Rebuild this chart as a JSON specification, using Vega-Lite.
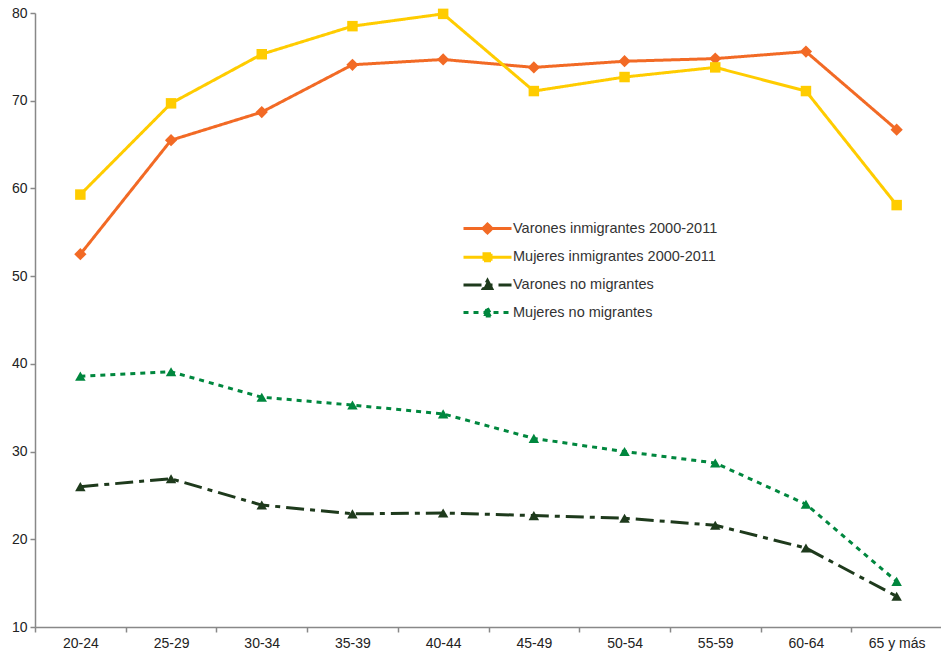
{
  "$schema": "https://vega.github.io/schema/vega-lite/v6.json",
  "autosize": "none",
  "width": 907,
  "height": 614,
  "padding": {"left": 35, "top": 13, "right": 0, "bottom": 30},
  "background": "white",
  "config": {
    "view": {"stroke": null},
    "font": "Liberation Sans",
    "axis": {"labelFont": "Liberation Sans", "labelFontSize": 14, "labelColor": "#222", "domainColor": "#888", "tickColor": "#888", "domainWidth": 1.5, "tickWidth": 1.5, "grid": false, "title": null}
  },
  "data": {"values": [
    {"g": "20-24", "s": "Varones inmigrantes 2000-2011", "v": 52.5},
    {"g": "25-29", "s": "Varones inmigrantes 2000-2011", "v": 65.5},
    {"g": "30-34", "s": "Varones inmigrantes 2000-2011", "v": 68.7},
    {"g": "35-39", "s": "Varones inmigrantes 2000-2011", "v": 74.1},
    {"g": "40-44", "s": "Varones inmigrantes 2000-2011", "v": 74.7},
    {"g": "45-49", "s": "Varones inmigrantes 2000-2011", "v": 73.8},
    {"g": "50-54", "s": "Varones inmigrantes 2000-2011", "v": 74.5},
    {"g": "55-59", "s": "Varones inmigrantes 2000-2011", "v": 74.8},
    {"g": "60-64", "s": "Varones inmigrantes 2000-2011", "v": 75.6},
    {"g": "65 y más", "s": "Varones inmigrantes 2000-2011", "v": 66.7},
    {"g": "20-24", "s": "Mujeres inmigrantes 2000-2011", "v": 59.3},
    {"g": "25-29", "s": "Mujeres inmigrantes 2000-2011", "v": 69.7},
    {"g": "30-34", "s": "Mujeres inmigrantes 2000-2011", "v": 75.3},
    {"g": "35-39", "s": "Mujeres inmigrantes 2000-2011", "v": 78.5},
    {"g": "40-44", "s": "Mujeres inmigrantes 2000-2011", "v": 79.9},
    {"g": "45-49", "s": "Mujeres inmigrantes 2000-2011", "v": 71.1},
    {"g": "50-54", "s": "Mujeres inmigrantes 2000-2011", "v": 72.7},
    {"g": "55-59", "s": "Mujeres inmigrantes 2000-2011", "v": 73.8},
    {"g": "60-64", "s": "Mujeres inmigrantes 2000-2011", "v": 71.1},
    {"g": "65 y más", "s": "Mujeres inmigrantes 2000-2011", "v": 58.1},
    {"g": "20-24", "s": "Varones no migrantes", "v": 26.0},
    {"g": "25-29", "s": "Varones no migrantes", "v": 26.9},
    {"g": "30-34", "s": "Varones no migrantes", "v": 23.9},
    {"g": "35-39", "s": "Varones no migrantes", "v": 22.9},
    {"g": "40-44", "s": "Varones no migrantes", "v": 23.0},
    {"g": "45-49", "s": "Varones no migrantes", "v": 22.7},
    {"g": "50-54", "s": "Varones no migrantes", "v": 22.4},
    {"g": "55-59", "s": "Varones no migrantes", "v": 21.6},
    {"g": "60-64", "s": "Varones no migrantes", "v": 19.0},
    {"g": "65 y más", "s": "Varones no migrantes", "v": 13.5},
    {"g": "20-24", "s": "Mujeres no migrantes", "v": 38.6},
    {"g": "25-29", "s": "Mujeres no migrantes", "v": 39.1},
    {"g": "30-34", "s": "Mujeres no migrantes", "v": 36.2},
    {"g": "35-39", "s": "Mujeres no migrantes", "v": 35.3},
    {"g": "40-44", "s": "Mujeres no migrantes", "v": 34.3},
    {"g": "45-49", "s": "Mujeres no migrantes", "v": 31.5},
    {"g": "50-54", "s": "Mujeres no migrantes", "v": 30.0},
    {"g": "55-59", "s": "Mujeres no migrantes", "v": 28.7},
    {"g": "60-64", "s": "Mujeres no migrantes", "v": 24.0},
    {"g": "65 y más", "s": "Mujeres no migrantes", "v": 15.2}
  ]},
  "encoding": {
    "x": {"field": "g", "type": "nominal", "sort": null,
      "scale": {"paddingInner": 0, "paddingOuter": 0},
      "axis": {"labelAngle": 0, "tickBand": "extent", "tickSize": 5, "labelPadding": 4}},
    "y": {"field": "v", "type": "quantitative",
      "scale": {"domain": [10, 80], "nice": false, "zero": false},
      "axis": {"values": [10, 20, 30, 40, 50, 60, 70, 80], "tickSize": 5, "labelPadding": 3}}
  },
  "layer": [
    {
      "mark": {"type": "line", "strokeWidth": 3},
      "encoding": {
        "strokeDash": {"field": "s", "type": "nominal", "legend": null,
          "scale": {"domain": ["Varones inmigrantes 2000-2011", "Mujeres inmigrantes 2000-2011", "Varones no migrantes", "Mujeres no migrantes"],
                    "range": [[1, 0], [1, 0], [18, 6, 5, 6], [5, 5]]}},
        "color": {"field": "s", "type": "nominal",
          "scale": {"domain": ["Varones inmigrantes 2000-2011", "Mujeres inmigrantes 2000-2011", "Varones no migrantes", "Mujeres no migrantes"],
                    "range": ["#F26A25", "#FFCC00", "#1E3A1C", "#00873E"]},
          "legend": {
            "title": null, "orient": "none", "legendX": 441, "legendY": 204,
            "padding": 0, "symbolSize": 400, "symbolStrokeWidth": 3,
            "labelFont": "Liberation Sans", "labelFontSize": 14.5, "labelColor": "#333", "labelLimit": 400,
            "labelOffset": 14, "rowPadding": 6.7,
            "encode": {"symbols": {"update": {
              "shape": {"signal": "datum.value === 'Varones inmigrantes 2000-2011' ? 'M-2.4,0L2.4,0M0,-0.45L0.45,0L0,0.45L-0.45,0Z' : datum.value === 'Mujeres inmigrantes 2000-2011' ? 'M-2.4,0L2.4,0M-0.35,-0.35L0.35,-0.35L0.35,0.35L-0.35,0.35Z' : 'M-2.4,0L2.4,0M0,-0.45L0.42,0.35L-0.42,0.35Z'"},
              "strokeDash": {"signal": "datum.value === 'Varones no migrantes' ? [16, 6, 5, 6] : datum.value === 'Mujeres no migrantes' ? [6, 8] : [1, 0]"},
              "fill": {"scale": "color", "field": "value"},
              "stroke": {"scale": "color", "field": "value"},
              "opacity": {"value": 1}
            }}}
          }}
      }
    },
    {
      "transform": [{"filter": "datum.s === 'Varones inmigrantes 2000-2011'"}],
      "mark": {"type": "point", "filled": true, "opacity": 1, "size": 150, "shape": "diamond", "color": "#F26A25"}
    },
    {
      "transform": [{"filter": "datum.s === 'Mujeres inmigrantes 2000-2011'"}],
      "mark": {"type": "point", "filled": true, "opacity": 1, "size": 110, "shape": "square", "color": "#FFCC00"}
    },
    {
      "transform": [{"filter": "datum.s === 'Varones no migrantes'"}],
      "mark": {"type": "point", "filled": true, "opacity": 1, "size": 110, "shape": "triangle-up", "color": "#1E3A1C"}
    },
    {
      "transform": [{"filter": "datum.s === 'Mujeres no migrantes'"}],
      "mark": {"type": "point", "filled": true, "opacity": 1, "size": 110, "shape": "triangle-up", "color": "#00873E"}
    }
  ]
}
